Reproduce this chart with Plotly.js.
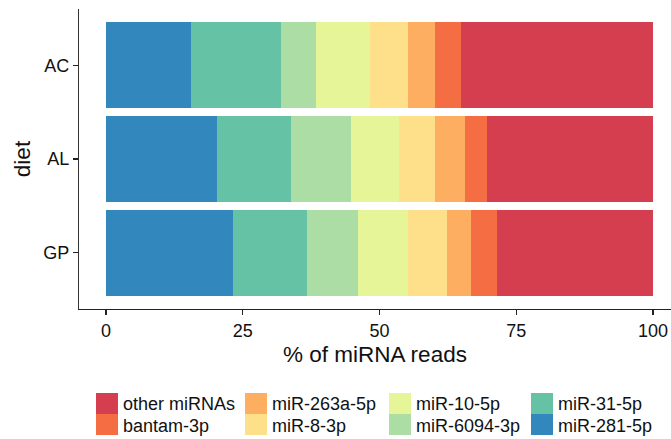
<!DOCTYPE html>
<html>
<head>
<meta charset="utf-8">
<script src="https://cdn.plot.ly/plotly-3.0.1.min.js"></script>
<style>html,body{margin:0;padding:0;background:#fff;}#chart{width:671px;height:439px;}</style>
</head>
<body>
<div id="chart"></div>
<script>
// Data
const diets = ['AC', 'AL', 'GP'];
const seriesNames = ['miR-281-5p', 'miR-31-5p', 'miR-6094-3p', 'miR-10-5p', 'miR-8-3p', 'miR-263a-5p', 'bantam-3p', 'other miRNAs'];
const seriesColors = ['#3288BD', '#66C2A5', '#ABDDA4', '#E6F598', '#FEE08B', '#FDAE61', '#F46D43', '#D53E4F'];
const mir281 = [15.6, 20.2, 23.3];
const mir31 = [16.4, 13.6, 13.5];
const mir6094 = [6.4, 10.9, 9.3];
const mir10 = [9.8, 8.8, 9.1];
const mir8 = [7.0, 6.7, 7.1];
const mir263a = [5.0, 5.4, 4.4];
const bantam = [4.7, 4.1, 4.7];
const other = [35.1, 30.3, 28.6];
const seriesValues = [mir281, mir31, mir6094, mir10, mir8, mir263a, bantam, other];
const xTicks = [0, 25, 50, 75, 100];
// legend order (ggplot: column-major, reversed stacking)
const legendOrder = ['other miRNAs', 'bantam-3p', 'miR-263a-5p', 'miR-8-3p', 'miR-10-5p', 'miR-6094-3p', 'miR-31-5p', 'miR-281-5p'];

const FONT = 'Liberation Sans, Arial, Helvetica, sans-serif';
const W = 671, H = 439, ML = 79, MR = 0, MT = 9, MB = 130;
const PW = W - ML - MR, PH = H - MT - MB;
const px = v => (v - ML) / PW;
const py = v => (H - MB - v) / PH;

const traces = seriesNames.map((name, i) => ({
  type: 'bar',
  orientation: 'h',
  name: name,
  y: diets,
  x: seriesValues[i],
  marker: {color: seriesColors[i], line: {width: 0}},
  showlegend: false,
  hoverinfo: 'x+y+name'
}));

const colX = [96, 245, 389, 531];
const shapes = [];
const annotations = [];
legendOrder.forEach((name, k) => {
  const col = Math.floor(k / 2), row = k % 2;
  const color = seriesColors[seriesNames.indexOf(name)];
  const x0 = colX[col], y0 = 393 + row * 21;
  shapes.push({type: 'rect', xref: 'paper', yref: 'paper',
    x0: px(x0), x1: px(x0 + 22), y0: py(y0), y1: py(y0 + 21),
    fillcolor: color, line: {width: 0}});
  annotations.push({xref: 'paper', yref: 'paper', x: px(x0 + 25), y: py(404 + row * 22),
    xanchor: 'left', yanchor: 'middle', showarrow: false, text: name,
    font: {family: FONT, size: 18, color: '#111'}});
});

const layout = {
  width: W, height: H,
  margin: {l: ML, r: MR, t: MT, b: MB, pad: 0},
  paper_bgcolor: '#fff', plot_bgcolor: '#fff',
  barmode: 'stack', bargap: 0.08,
  showlegend: false,
  font: {family: FONT, size: 18, color: '#111'},
  xaxis: {
    range: [-4.94, 103.3], tickvals: xTicks, ticktext: xTicks.map(String),
    showgrid: false, zeroline: false, showline: true, linecolor: '#222', linewidth: 1.2,
    ticks: 'outside', ticklen: 5, tickcolor: '#222', tickwidth: 1.2,
    tickfont: {family: FONT, size: 18, color: '#111'},
    title: {text: '% of miRNA reads', font: {family: FONT, size: 22.5, color: '#111'}, standoff: 6},
    fixedrange: true
  },
  yaxis: {
    type: 'category', categoryorder: 'array', categoryarray: diets.slice().reverse(),
    range: [-0.6, 2.6],
    showgrid: false, zeroline: false, showline: true, linecolor: '#333', linewidth: 1.2,
    ticks: 'outside', ticklen: 5, tickcolor: '#222', tickwidth: 1.2,
    tickfont: {family: FONT, size: 18, color: '#111'},
    title: {text: 'diet', font: {family: FONT, size: 22.5, color: '#111'}, standoff: 6},
    fixedrange: true
  },
  shapes: shapes,
  annotations: annotations
};

Plotly.newPlot('chart', traces, layout, {displayModeBar: false, staticPlot: true});
</script>
</body>
</html>
